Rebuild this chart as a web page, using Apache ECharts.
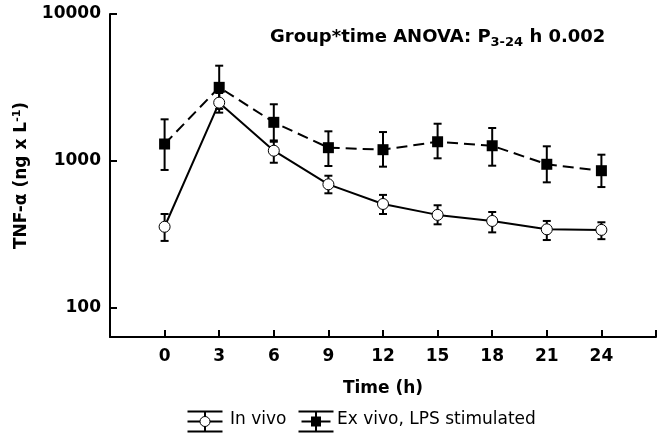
<!DOCTYPE html>
<html>
<head>
<meta charset="utf-8">
<script src="https://cdn.jsdelivr.net/npm/echarts@6/dist/echarts.min.js"></script>
<style>html,body{margin:0;padding:0;background:#fff;}#c{width:664px;height:438px;}</style>
</head>
<body>
<div id="c"></div>
<script>
const timePoints = [0, 3, 6, 9, 12, 15, 18, 21, 24];
const inVivoMean = [357, 2495, 1175, 694, 510, 430, 391, 343, 340];
const inVivoLow  = [286, 2133, 973, 603, 436, 371, 327, 290, 294];
const inVivoHigh = [436, 2900, 1352, 794, 588, 500, 450, 391, 383];
const exVivoMean = [1305, 3170, 1833, 1232, 1194, 1352, 1270, 950, 859];
const exVivoLow  = [869, 2260, 1380, 925, 915, 1043, 929, 716, 665];
const exVivoHigh = [1921, 4450, 2432, 1592, 1574, 1793, 1677, 1259, 1104];
const xTickValues = [0, 3, 6, 9, 12, 15, 18, 21, 24, 27];
const xLabelValues = [0, 3, 6, 9, 12, 15, 18, 21, 24];
const yTickValues = [100, 1000, 10000];
const seriesNames = ['In vivo', 'Ex vivo, LPS stimulated'];
const annotation = 'Group*time ANOVA: P{sub|3-24} h 0.002';

const FONT = '"DejaVu Sans", "Liberation Sans", Arial, sans-serif';

function pairs(xs, ys) { return xs.map((x, i) => [x, ys[i]]); }
function triples(xs, lo, hi) { return xs.map((x, i) => [x, lo[i], hi[i]]); }

function errRender(params, api) {
  const x = api.value(0), lo = api.value(1), hi = api.value(2);
  const a = api.coord([x, lo]), b = api.coord([x, hi]);
  const w = 4;
  const st = { stroke: '#000', lineWidth: 2 };
  return {
    type: 'group',
    children: [
      { type: 'line', shape: { x1: a[0], y1: a[1], x2: b[0], y2: b[1] }, style: st },
      { type: 'line', shape: { x1: a[0] - w, y1: a[1], x2: a[0] + w, y2: a[1] }, style: st },
      { type: 'line', shape: { x1: b[0] - w, y1: b[1], x2: b[0] + w, y2: b[1] }, style: st }
    ]
  };
}

const chart = echarts.init(document.getElementById('c'), null, { renderer: 'canvas' });
chart.setOption({
  animation: false,
  backgroundColor: '#fff',
  grid: { left: 110, right: 8, top: 14, bottom: 101, containLabel: false },
  xAxis: {
    type: 'value', min: -3, max: 27, interval: 3,
    name: 'Time (h)', nameLocation: 'middle', nameGap: 43,
    nameTextStyle: { fontFamily: FONT, fontWeight: 'bold', fontSize: 17, color: '#000' },
    axisLine: { onZero: false, lineStyle: { color: '#000', width: 2 } },
    axisTick: { inside: true, length: 7, lineStyle: { color: '#000', width: 2 }, customValues: xTickValues },
    axisLabel: { margin: 11, fontFamily: FONT, fontWeight: 'bold', fontSize: 17, color: '#000', customValues: xLabelValues },
    splitLine: { show: false }
  },
  yAxis: {
    type: 'log', logBase: 10, min: 63.5, max: 10000,
    name: 'TNF-α (ng x L{sup|-1})', nameLocation: 'middle', nameGap: 78,
    nameTextStyle: {
      fontFamily: FONT, fontWeight: 'bold', fontSize: 17, color: '#000',
      rich: { sup: { fontFamily: FONT, fontWeight: 'bold', fontSize: 11, color: '#000', padding: [0, 0, 9, 0] } }
    },
    axisLine: { onZero: false, lineStyle: { color: '#000', width: 2 } },
    axisTick: { inside: true, length: 7, lineStyle: { color: '#000', width: 2 }, customValues: yTickValues },
    axisLabel: {
      margin: 9, fontFamily: FONT, fontWeight: 'bold', fontSize: 17, color: '#000', customValues: yTickValues,
      formatter: v => String(Math.round(v))
    },
    splitLine: { show: false }
  },
  series: [
    {
      name: seriesNames[1] + ' err', type: 'custom', z: 2,
      data: triples(timePoints, exVivoLow, exVivoHigh),
      encode: { x: 0, y: [1, 2] }, renderItem: errRender
    },
    {
      name: seriesNames[1], type: 'line', z: 3,
      data: pairs(timePoints, exVivoMean),
      symbol: 'rect', symbolSize: 11,
      lineStyle: { color: '#000', width: 2, type: [11, 6] },
      itemStyle: { color: '#000', borderColor: '#000', borderWidth: 0 }
    },
    {
      name: seriesNames[0] + ' err', type: 'custom', z: 4,
      data: triples(timePoints, inVivoLow, inVivoHigh),
      encode: { x: 0, y: [1, 2] }, renderItem: errRender
    },
    {
      name: seriesNames[0], type: 'line', z: 5,
      data: pairs(timePoints, inVivoMean),
      symbol: 'circle', symbolSize: 11, showAllSymbol: true,
      lineStyle: { color: '#000', width: 2 },
      itemStyle: { color: '#fff', borderColor: '#000', borderWidth: 1 }
    }
  ],
  graphic: [
    {
      type: 'text', left: 270, top: 28, z: 10,
      style: {
        text: annotation,
        fontFamily: FONT, fontWeight: 'bold', fontSize: 18, fill: '#000',
        rich: { sub: { fontFamily: FONT, fontWeight: 'bold', fontSize: 13, fill: '#000', padding: [11, 0, 0, 0] } }
      }
    },
    // legend: In vivo
    { type: 'group', left: 185, top: 409, children: [
      { type: 'line', shape: { x1: 0, y1: 0, x2: 35, y2: 0 }, style: { stroke: '#000', lineWidth: 2 } },
      { type: 'line', shape: { x1: 0, y1: 10, x2: 35, y2: 10 }, style: { stroke: '#000', lineWidth: 2 } },
      { type: 'line', shape: { x1: 0, y1: 20, x2: 35, y2: 20 }, style: { stroke: '#000', lineWidth: 2 } },
      { type: 'line', shape: { x1: 17.5, y1: 0, x2: 17.5, y2: 20 }, style: { stroke: '#000', lineWidth: 2 } },
      { type: 'circle', shape: { cx: 17.5, cy: 10, r: 5 }, style: { fill: '#fff', stroke: '#000', lineWidth: 1 } }
    ] },
    { type: 'text', left: 230, top: 411, style: { text: seriesNames[0], fontFamily: FONT, fontSize: 17, fill: '#000' } },
    // legend: Ex vivo
    { type: 'group', left: 296, top: 409, children: [
      { type: 'line', shape: { x1: 0, y1: 0, x2: 35, y2: 0 }, style: { stroke: '#000', lineWidth: 2 } },
      { type: 'line', shape: { x1: 3, y1: 10, x2: 32, y2: 10 }, style: { stroke: '#000', lineWidth: 2 } },
      { type: 'line', shape: { x1: 0, y1: 20, x2: 35, y2: 20 }, style: { stroke: '#000', lineWidth: 2 } },
      { type: 'line', shape: { x1: 17.5, y1: 0, x2: 17.5, y2: 20 }, style: { stroke: '#000', lineWidth: 2 } },
      { type: 'rect', shape: { x: 12.5, y: 5, width: 10, height: 10 }, style: { fill: '#000' } }
    ] },
    { type: 'text', left: 337, top: 411, style: { text: seriesNames[1], fontFamily: FONT, fontSize: 17, fill: '#000' } }
  ]
});
</script>
</body>
</html>
